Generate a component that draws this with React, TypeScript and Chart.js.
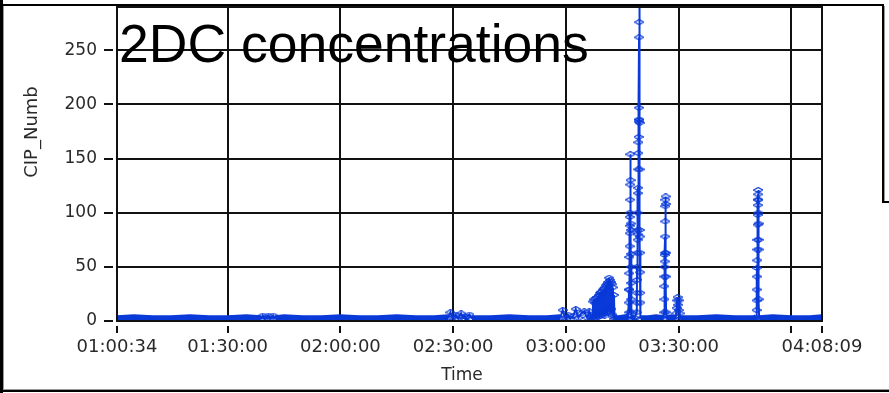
import React, { useEffect, useRef } from 'react';
import { Chart, registerables } from 'chart.js';

Chart.register(...registerables);

// ---- data ---------------------------------------------------------------

const chartTitle = '2DC concentrations';
const xAxisTitle = 'Time';
const yAxisTitle = 'CIP_Numb';

// Sample timestamps (hh:mm:ss) and CIP particle counts, in time order.
const sampleTimes: string[] = [
  // quiet period
  '01:00:34', '01:05:00', '01:10:00', '01:15:00', '01:20:00', '01:25:00', '01:30:00', '01:35:00',
  '01:38:50', '01:39:20', '01:39:50', '01:40:50', '01:41:20', '01:42:10', '01:42:40', '01:45:00',
  '01:50:00', '01:55:00', '02:00:00', '02:05:00', '02:10:00', '02:15:00', '02:20:00', '02:25:00',
  '02:28:40', '02:29:17', '02:29:50', '02:30:40', '02:31:20', '02:32:08', '02:32:50', '02:33:30',
  '02:34:21', '02:35:00', '02:40:00', '02:45:00', '02:50:00', '02:55:00', '02:58:30', '02:59:09',
  '02:59:50', '03:00:30', '03:01:10', '03:02:00', '03:02:37', '03:03:20', '03:04:05', '03:04:53',
  '03:05:40', '03:06:13', '03:06:50',
  // 03:07 - 03:13 rising patch
  '03:07:05', '03:07:12', '03:07:20', '03:07:28', '03:07:36', '03:07:44', '03:07:52', '03:08:00',
  '03:08:08', '03:08:16', '03:08:24', '03:08:32', '03:08:40', '03:08:48', '03:08:56', '03:09:04',
  '03:09:12', '03:09:20', '03:09:28', '03:09:36', '03:09:44', '03:09:52', '03:10:00', '03:10:08',
  '03:10:16', '03:10:24', '03:10:32', '03:10:40', '03:10:48', '03:10:56', '03:11:04', '03:11:12',
  '03:11:20', '03:11:28', '03:11:36', '03:11:44', '03:11:52', '03:12:00', '03:12:08', '03:12:16',
  '03:12:24', '03:12:32', '03:12:40', '03:12:48', '03:12:56',
  '03:14:00', '03:16:00', '03:16:30',
  // burst at 03:17
  '03:16:44', '03:16:46', '03:16:48', '03:16:50', '03:16:52', '03:16:54', '03:16:56', '03:16:58',
  '03:17:00', '03:17:02', '03:17:04', '03:17:06', '03:17:08', '03:17:10', '03:17:12', '03:17:14',
  '03:17:16', '03:17:18', '03:17:20', '03:17:22', '03:17:24', '03:17:26', '03:17:30', '03:18:20',
  // main burst at 03:19
  '03:18:50', '03:18:52', '03:18:54', '03:18:56', '03:18:58', '03:19:00', '03:19:02', '03:19:04',
  '03:19:06', '03:19:08', '03:19:10', '03:19:12', '03:19:14', '03:19:16', '03:19:18', '03:19:20',
  '03:19:22', '03:19:24', '03:19:26', '03:19:28', '03:19:30', '03:19:32', '03:19:34', '03:19:36',
  '03:19:38', '03:19:40', '03:19:42', '03:19:44', '03:19:46', '03:19:48', '03:19:50', '03:19:54',
  '03:22:00', '03:24:00', '03:26:00',
  // burst at 03:26
  '03:26:08', '03:26:10', '03:26:12', '03:26:14', '03:26:16', '03:26:18', '03:26:20', '03:26:22',
  '03:26:24', '03:26:26', '03:26:28', '03:26:30', '03:26:32', '03:26:34', '03:26:36', '03:26:38',
  '03:26:40', '03:26:44', '03:28:00', '03:29:10',
  // small patch at 03:30
  '03:29:20', '03:29:28', '03:29:36', '03:29:44', '03:29:52', '03:30:00', '03:30:08', '03:30:16',
  '03:30:24', '03:35:00', '03:40:00', '03:45:00', '03:50:00', '03:50:40',
  // burst at 03:51
  '03:50:44', '03:50:46', '03:50:48', '03:50:50', '03:50:52', '03:50:54', '03:50:56', '03:50:58',
  '03:51:00', '03:51:02', '03:51:04', '03:51:06', '03:51:08', '03:51:10', '03:51:12', '03:51:14',
  '03:51:16', '03:51:18', '03:51:20', '03:51:22', '03:51:26',
  '03:55:00', '04:00:00', '04:05:00', '04:08:09',
];

const cipNumb: number[] = [
  // quiet period
  2, 3, 2, 2, 3, 2, 2, 3,
  2, 5, 2, 5, 2, 5, 2, 3,
  2, 2, 3, 2, 2, 3, 2, 2,
  3, 8, 3, 6, 2, 7, 2, 4,
  6, 2, 2, 3, 2, 2, 3, 10,
  3, 6, 2, 5, 11, 3, 7, 9,
  3, 9, 4,
  // 03:07 - 03:13 rising patch
  2, 18, 4, 20, 6, 17, 3, 21,
  5, 22, 8, 19, 4, 24, 7, 26,
  5, 27, 9, 25, 6, 29, 8, 30,
  5, 31, 10, 33, 7, 34, 12, 36,
  9, 40, 14, 38, 8, 36, 11, 34,
  6, 31, 4, 24, 2,
  2, 3, 2,
  // burst at 03:17
  17, 29, 8, 44, 59, 29, 69, 96,
  81, 100, 88, 112, 126, 154, 130, 90,
  50, 84, 35, 20, 62, 8, 2, 3,
  // main burst at 03:19
  8, 26, 17, 50, 38, 63, 84, 75,
  100, 80, 118, 123, 140, 155, 165, 170,
  184, 186, 197, 262, 276, 300, 186, 183,
  140, 84, 78, 45, 63, 17, 26, 2,
  2, 3, 2,
  // burst at 03:26
  8, 32, 41, 20, 50, 61, 55, 63,
  78, 92, 106, 112, 115, 108, 63, 41,
  8, 2, 3, 2,
  // small patch at 03:30
  7, 12, 19, 22, 15, 10, 19, 7,
  2, 2, 3, 2, 2, 3,
  // burst at 03:51
  10, 19, 29, 41, 49, 56, 66, 75,
  89, 98, 107, 112, 117, 121, 112, 100,
  90, 75, 66, 20, 2,
  3, 2, 2, 3,
];

// Axis ticks
const xTickTimes = ['01:00:34', '01:30:00', '02:00:00', '02:30:00', '03:00:00', '03:30:00', '04:00:00', '04:08:09'];
const unlabeledXTicks = ['04:00:00'];
const yTickValues = [0, 50, 100, 150, 200, 250];
const yAxisMin = 0;
const yAxisMax = 290;

// ---- helpers -------------------------------------------------------------

const SERIES_BLUE = '#0a3ad8';
const GRID_BLACK = '#111111';
const LABEL_GREY = '#2a2a2a';
const UI_FONT = '"DejaVu Sans", Verdana, sans-serif';

const toSeconds = (t: string): number => {
  const [h, m, s] = t.split(':').map(Number);
  return h * 3600 + m * 60 + s;
};

const pad2 = (n: number) => String(n).padStart(2, '0');
const toClock = (sec: number): string => {
  const h = Math.floor(sec / 3600);
  const m = Math.floor((sec % 3600) / 60);
  const s = Math.round(sec % 60);
  return `${pad2(h)}:${pad2(m)}:${pad2(s)}`;
};

// Open diamond marker, wider than tall
function makeDiamond(color: string): HTMLCanvasElement {
  const c = document.createElement('canvas');
  c.width = 10;
  c.height = 6;
  const g = c.getContext('2d')!;
  g.strokeStyle = color;
  g.lineWidth = 1.2;
  g.beginPath();
  g.moveTo(0.5, 3);
  g.lineTo(5, 0.5);
  g.lineTo(9.5, 3);
  g.lineTo(5, 5.5);
  g.closePath();
  g.stroke();
  return c;
}

// Plot frame, outside tick marks, axis titles, the overlaid title and the page border
const decorPlugin = {
  id: 'decor',
  afterDraw(chart: any) {
    const { ctx, chartArea: a, scales, width, height } = chart;
    ctx.save();

    ctx.strokeStyle = GRID_BLACK;
    ctx.lineWidth = 2;
    ctx.strokeRect(a.left, a.top, a.right - a.left, a.bottom - a.top);

    ctx.beginPath();
    scales.x.ticks.forEach((t: any) => {
      const px = Math.round(scales.x.getPixelForValue(t.value));
      ctx.moveTo(px, a.bottom + 5);
      ctx.lineTo(px, a.bottom + 12);
    });
    scales.y.ticks.forEach((t: any) => {
      const py = Math.round(scales.y.getPixelForValue(t.value));
      ctx.moveTo(a.left - 13, py);
      ctx.lineTo(a.left - 4, py);
    });
    ctx.stroke();

    // axis titles
    ctx.fillStyle = LABEL_GREY;
    ctx.font = `17px ${UI_FONT}`;
    ctx.textAlign = 'center';
    ctx.textBaseline = 'middle';
    ctx.fillText(xAxisTitle, 462, 376);
    ctx.save();
    ctx.translate(32, 132);
    ctx.rotate(-Math.PI / 2);
    ctx.font = `18px ${UI_FONT}`;
    ctx.fillText(yAxisTitle, 0, 0);
    ctx.restore();

    // large title over the plot
    ctx.fillStyle = '#000';
    ctx.font = '53.5px "Liberation Sans", Arial, sans-serif';
    ctx.textAlign = 'left';
    ctx.textBaseline = 'alphabetic';
    ctx.fillText(chartTitle, 119, 62);

    // page border
    ctx.fillStyle = '#000';
    ctx.fillRect(0, 0, 3, height);
    ctx.fillRect(0, 4, 884, 2);
    ctx.fillRect(882, 4, 2, 199);
    ctx.fillRect(882, 201, width - 882, 2);
    ctx.fillRect(0, 390, width, 2);
    ctx.fillStyle = '#9a9a9a';
    ctx.fillRect(3, 6, 1, 384);
    ctx.fillRect(3, 389, width - 3, 1);
    ctx.fillRect(884, 6, 1, 195);

    ctx.restore();
  },
};

// ---- component -----------------------------------------------------------

export default function App() {
  const canvasRef = useRef<HTMLCanvasElement | null>(null);

  useEffect(() => {
    const canvas = canvasRef.current;
    if (!canvas) return;

    const n = Math.min(sampleTimes.length, cipNumb.length);
    const points = [];
    for (let i = 0; i < n; i++) points.push({ x: toSeconds(sampleTimes[i]), y: cipNumb[i] });

    const xTickSeconds = xTickTimes.map(toSeconds);
    const hiddenX = new Set(unlabeledXTicks.map(toSeconds));

    const chart = new Chart(canvas, {
      type: 'line',
      data: {
        datasets: [
          {
            label: yAxisTitle,
            data: points,
            borderColor: SERIES_BLUE,
            backgroundColor: SERIES_BLUE,
            borderWidth: 2,
            pointStyle: makeDiamond(SERIES_BLUE) as any,
            pointRadius: 3,
            pointHoverRadius: 3,
            tension: 0,
            fill: false,
            segment: {
              // the near-zero background level renders as a heavy band
              borderWidth: (ctx: any) => (ctx.p0.parsed.y <= 4 && ctx.p1.parsed.y <= 4 ? 7 : 2),
            },
          },
        ],
      },
      options: {
        animation: false,
        responsive: false,
        maintainAspectRatio: false,
        devicePixelRatio: 1,
        layout: { autoPadding: false, padding: { left: 0, top: 7, right: 67, bottom: 0 } },
        plugins: {
          legend: { display: false },
          tooltip: { enabled: false },
          title: { display: false },
        },
        scales: {
          x: {
            type: 'linear',
            min: xTickSeconds[0],
            max: xTickSeconds[xTickSeconds.length - 1],
            afterBuildTicks: (scale: any) => {
              scale.ticks = xTickSeconds.map((v) => ({ value: v }));
            },
            afterFit: (scale: any) => {
              scale.height = 72;
              scale.paddingLeft = 0;
              scale.paddingRight = 0;
            },
            ticks: {
              autoSkip: false,
              maxRotation: 0,
              padding: 16,
              color: LABEL_GREY,
              font: { family: UI_FONT, size: 18 },
              callback: (v: any) => (hiddenX.has(Number(v)) ? '' : toClock(Number(v))),
            },
            grid: { color: GRID_BLACK, lineWidth: 2, drawTicks: false },
            border: { display: true, color: GRID_BLACK, width: 2 },
            title: { display: false },
          },
          y: {
            min: yAxisMin,
            max: yAxisMax,
            afterBuildTicks: (scale: any) => {
              scale.ticks = yTickValues.map((v) => ({ value: v }));
            },
            afterFit: (scale: any) => {
              scale.width = 117;
              scale.paddingTop = 0;
              scale.paddingBottom = 0;
            },
            ticks: {
              padding: 20,
              color: LABEL_GREY,
              font: { family: UI_FONT, size: 17 },
            },
            grid: { color: GRID_BLACK, lineWidth: 2, drawTicks: false },
            border: { display: true, color: GRID_BLACK, width: 2 },
            title: { display: false },
          },
        },
      },
      plugins: [decorPlugin],
    });

    return () => chart.destroy();
  }, []);

  return (
    <div style={{ position: 'absolute', left: 0, top: 0, width: 889, height: 393, background: '#fff' }}>
      <canvas ref={canvasRef} width={889} height={393} style={{ display: 'block', width: 889, height: 393 }} />
    </div>
  );
}
